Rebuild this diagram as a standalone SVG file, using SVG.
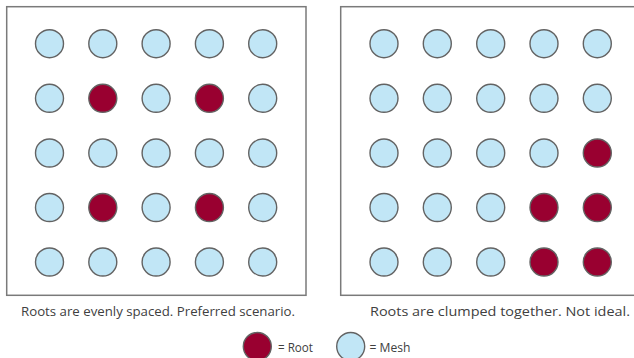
<svg xmlns="http://www.w3.org/2000/svg" width="634" height="358" viewBox="0 0 634 358">
  <style>
    .frame { fill: #ffffff; stroke: #7a7a7a; stroke-width: 1.5; }
    .mesh { fill: #c1e6f6; stroke: #636363; stroke-width: 1.4; }
    .root { fill: #990030; stroke: #636363; stroke-width: 1.4; }
    .caption { font-family: "Open Sans", "Noto Sans", sans-serif; font-size: 12px; fill: #404040; text-anchor: middle; }
    .legend { font-family: "Open Sans", "Noto Sans", sans-serif; font-size: 12px; fill: #404040; }
  </style>
  <defs>
    <circle id="m" r="14" class="mesh"/>
    <circle id="r" r="14" class="root"/>
  </defs>
  <rect width="634" height="358" fill="#ffffff"/>

  <!-- Evenly spaced roots -->
  <g id="even">
    <rect class="frame" x="6.7" y="6.7" width="299.3" height="288.6"/>
    <g id="even-row1">
      <use href="#m" x="49.5" y="43.7"/><use href="#m" x="102.8" y="43.7"/><use href="#m" x="156.1" y="43.7"/><use href="#m" x="209.4" y="43.7"/><use href="#m" x="262.7" y="43.7"/>
    </g>
    <g id="even-row2">
      <use href="#m" x="49.5" y="98.3"/><use href="#r" x="102.8" y="98.3"/><use href="#m" x="156.1" y="98.3"/><use href="#r" x="209.4" y="98.3"/><use href="#m" x="262.7" y="98.3"/>
    </g>
    <g id="even-row3">
      <use href="#m" x="49.5" y="153"/><use href="#m" x="102.8" y="153"/><use href="#m" x="156.1" y="153"/><use href="#m" x="209.4" y="153"/><use href="#m" x="262.7" y="153"/>
    </g>
    <g id="even-row4">
      <use href="#m" x="49.5" y="207.5"/><use href="#r" x="102.8" y="207.5"/><use href="#m" x="156.1" y="207.5"/><use href="#r" x="209.4" y="207.5"/><use href="#m" x="262.7" y="207.5"/>
    </g>
    <g id="even-row5">
      <use href="#m" x="49.5" y="262"/><use href="#m" x="102.8" y="262"/><use href="#m" x="156.1" y="262"/><use href="#m" x="209.4" y="262"/><use href="#m" x="262.7" y="262"/>
    </g>
    <text class="caption" x="158" y="316" textLength="274" lengthAdjust="spacingAndGlyphs">Roots are evenly spaced. Preferred scenario.</text>
  </g>

  <!-- Clumped roots -->
  <g id="clumped">
    <rect class="frame" x="340.7" y="6.7" width="300" height="288.6"/>
    <g id="clumped-row1">
      <use href="#m" x="384" y="43.7"/><use href="#m" x="437.3" y="43.7"/><use href="#m" x="490.7" y="43.7"/><use href="#m" x="544" y="43.7"/><use href="#m" x="597.3" y="43.7"/>
    </g>
    <g id="clumped-row2">
      <use href="#m" x="384" y="98.3"/><use href="#m" x="437.3" y="98.3"/><use href="#m" x="490.7" y="98.3"/><use href="#m" x="544" y="98.3"/><use href="#m" x="597.3" y="98.3"/>
    </g>
    <g id="clumped-row3">
      <use href="#m" x="384" y="153"/><use href="#m" x="437.3" y="153"/><use href="#m" x="490.7" y="153"/><use href="#m" x="544" y="153"/><use href="#r" x="597.3" y="153"/>
    </g>
    <g id="clumped-row4">
      <use href="#m" x="384" y="207.5"/><use href="#m" x="437.3" y="207.5"/><use href="#m" x="490.7" y="207.5"/><use href="#r" x="544" y="207.5"/><use href="#r" x="597.3" y="207.5"/>
    </g>
    <g id="clumped-row5">
      <use href="#m" x="384" y="262"/><use href="#m" x="437.3" y="262"/><use href="#m" x="490.7" y="262"/><use href="#r" x="544" y="262"/><use href="#r" x="597.3" y="262"/>
    </g>
    <text class="caption" x="500" y="316" textLength="260" lengthAdjust="spacingAndGlyphs">Roots are clumped together. Not ideal.</text>
  </g>

  <!-- Legend -->
  <g id="legend-root">
    <use href="#r" x="257.3" y="346.5"/>
    <text class="legend" x="278" y="352" textLength="35" lengthAdjust="spacingAndGlyphs">= Root</text>
  </g>
  <g id="legend-mesh">
    <use href="#m" x="350.7" y="346.5"/>
    <text class="legend" x="369.5" y="352" textLength="41" lengthAdjust="spacingAndGlyphs">= Mesh</text>
  </g>
</svg>
